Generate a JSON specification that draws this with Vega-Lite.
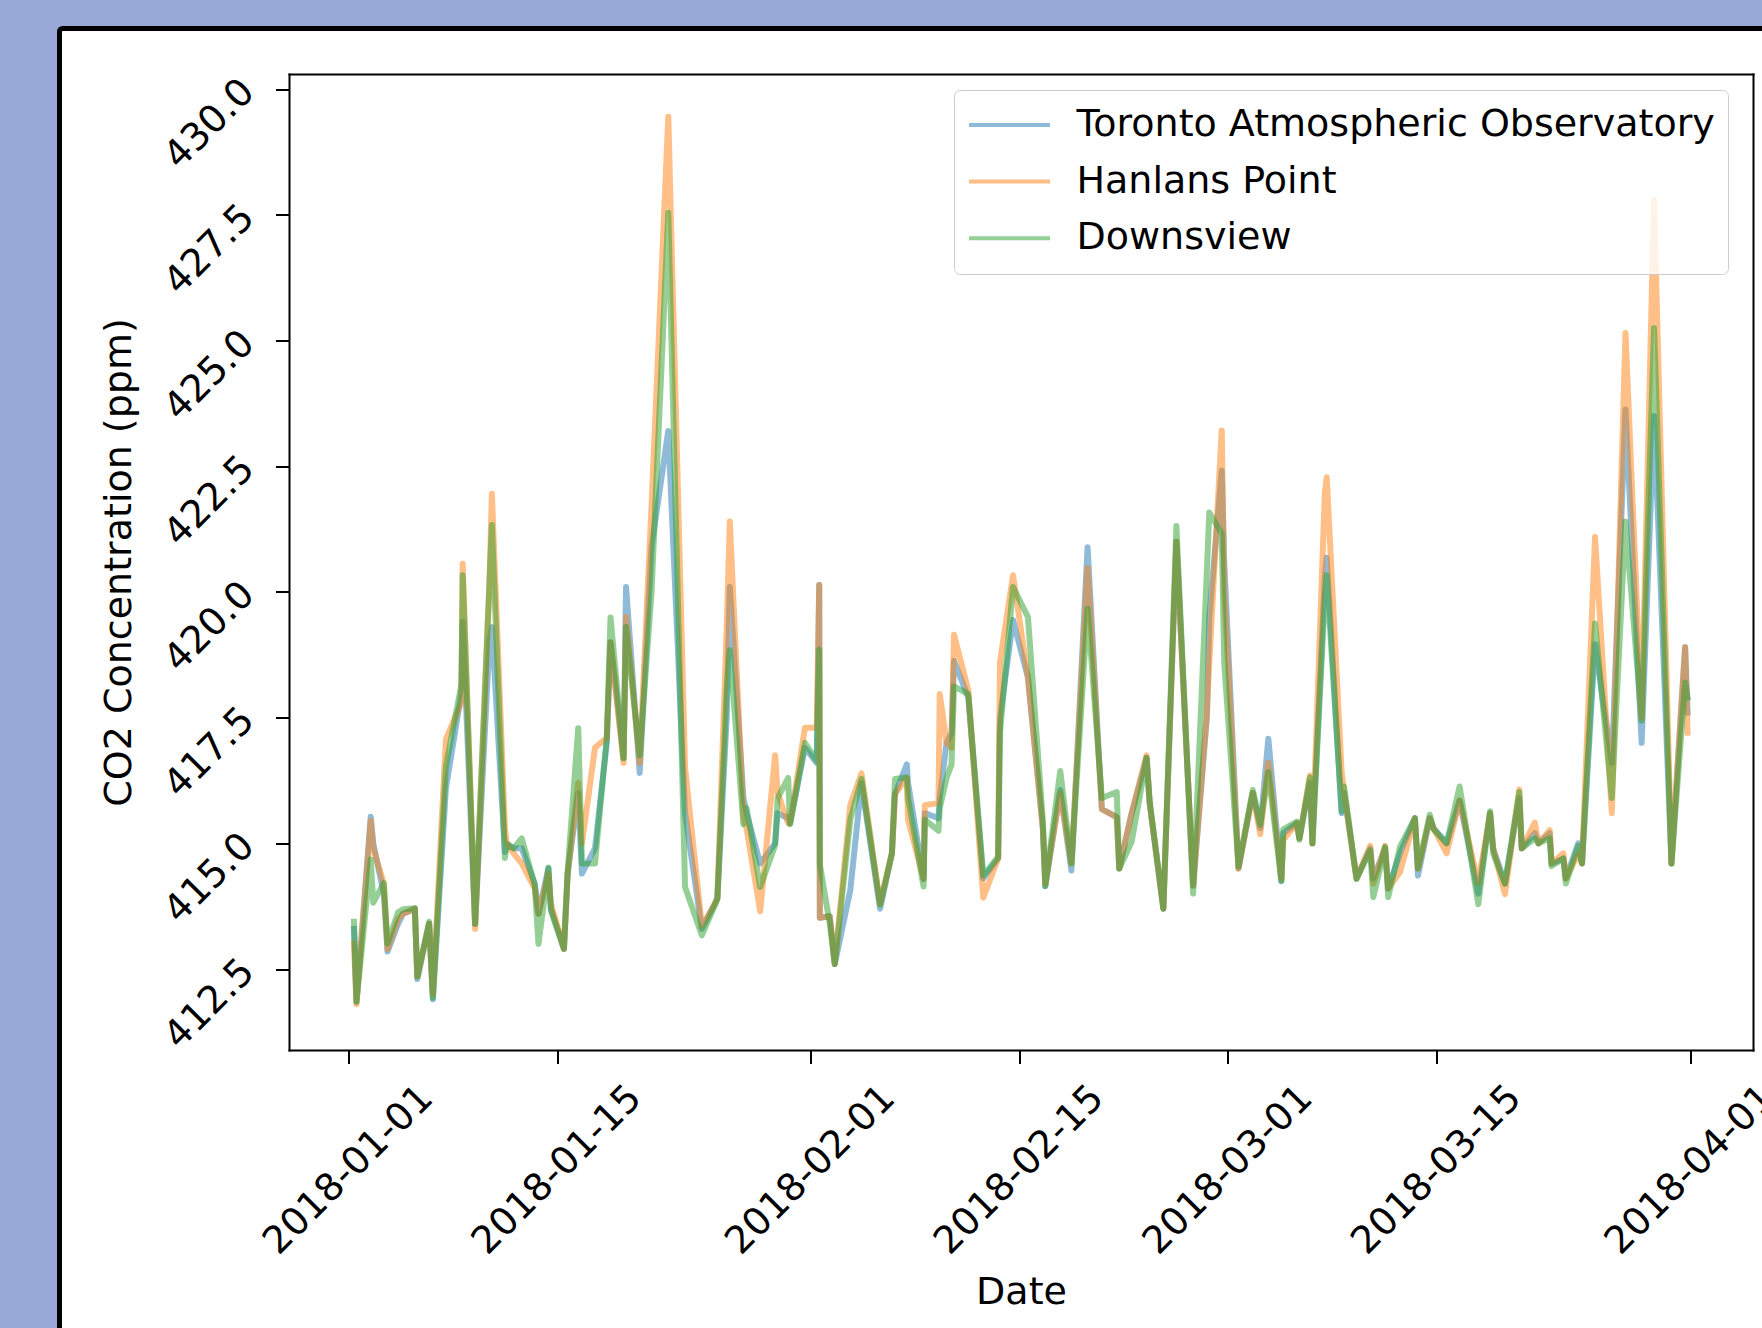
{
  "$schema": "https://vega.github.io/schema/vega-lite/v6.json",
  "width": 1712,
  "height": 1310,
  "autosize": {"type": "none"},
  "padding": {"left": 59.5, "top": 28.5, "right": -9.5, "bottom": -10.5},
  "background": "#98a9d7",
  "config": {
    "font": "DejaVu Sans",
    "view": {"fill": "white", "stroke": "black", "strokeWidth": 5, "cornerRadius": 3}
  },
  "data": {"values": [
    {"date": "2018-01-01T09:00", "Toronto Atmospheric Observatory": 413.3, "Hanlans Point": 413.0, "Downsview": 413.44},
    {"date": "2018-01-01T13:00", "Toronto Atmospheric Observatory": 411.85, "Hanlans Point": 411.8, "Downsview": 411.85},
    {"date": "2018-01-02T12:00", "Toronto Atmospheric Observatory": 415.53, "Hanlans Point": 415.45, "Downsview": 414.68},
    {"date": "2018-01-02T16:00", "Toronto Atmospheric Observatory": 415.0, "Hanlans Point": 414.9, "Downsview": 413.82},
    {"date": "2018-01-03T09:00", "Toronto Atmospheric Observatory": 414.0, "Hanlans Point": 414.2, "Downsview": 414.21},
    {"date": "2018-01-03T15:00", "Toronto Atmospheric Observatory": 412.85, "Hanlans Point": 412.9, "Downsview": 413.01},
    {"date": "2018-01-04T08:00", "Toronto Atmospheric Observatory": 413.4, "Hanlans Point": 413.5, "Downsview": 413.63},
    {"date": "2018-01-04T16:00", "Toronto Atmospheric Observatory": 413.6, "Hanlans Point": 413.6, "Downsview": 413.69},
    {"date": "2018-01-05T11:00", "Toronto Atmospheric Observatory": 413.7, "Hanlans Point": 413.7, "Downsview": 413.71},
    {"date": "2018-01-05T15:00", "Toronto Atmospheric Observatory": 412.3, "Hanlans Point": 412.35, "Downsview": 412.35},
    {"date": "2018-01-06T10:00", "Toronto Atmospheric Observatory": 413.4, "Hanlans Point": 413.4, "Downsview": 413.44},
    {"date": "2018-01-06T16:00", "Toronto Atmospheric Observatory": 411.9, "Hanlans Point": 412.0, "Downsview": 411.93},
    {"date": "2018-01-07T13:00", "Toronto Atmospheric Observatory": 416.1, "Hanlans Point": 417.07, "Downsview": 416.53},
    {"date": "2018-01-08T14:00", "Toronto Atmospheric Observatory": 418.0, "Hanlans Point": 417.8, "Downsview": 418.16},
    {"date": "2018-01-08T16:00", "Toronto Atmospheric Observatory": 419.4, "Hanlans Point": 420.56, "Downsview": 420.33},
    {"date": "2018-01-09T12:00", "Toronto Atmospheric Observatory": 413.4, "Hanlans Point": 413.3, "Downsview": 413.4},
    {"date": "2018-01-10T11:00", "Toronto Atmospheric Observatory": 419.0, "Hanlans Point": 420.1, "Downsview": 420.17},
    {"date": "2018-01-10T15:00", "Toronto Atmospheric Observatory": 419.3, "Hanlans Point": 421.95, "Downsview": 421.33},
    {"date": "2018-01-11T12:00", "Toronto Atmospheric Observatory": 414.83, "Hanlans Point": 415.3, "Downsview": 414.71},
    {"date": "2018-01-11T15:00", "Toronto Atmospheric Observatory": 415.0, "Hanlans Point": 415.0, "Downsview": 414.98},
    {"date": "2018-01-12T02:00", "Toronto Atmospheric Observatory": 414.9, "Hanlans Point": 414.8, "Downsview": 414.9},
    {"date": "2018-01-12T15:00", "Toronto Atmospheric Observatory": 414.9, "Hanlans Point": 414.6, "Downsview": 415.1},
    {"date": "2018-01-13T12:00", "Toronto Atmospheric Observatory": 414.2, "Hanlans Point": 414.1, "Downsview": 414.17},
    {"date": "2018-01-13T18:00", "Toronto Atmospheric Observatory": 413.6, "Hanlans Point": 413.6, "Downsview": 413.0},
    {"date": "2018-01-14T10:00", "Toronto Atmospheric Observatory": 414.5, "Hanlans Point": 414.4, "Downsview": 414.52},
    {"date": "2018-01-14T14:00", "Toronto Atmospheric Observatory": 413.7, "Hanlans Point": 413.8, "Downsview": 413.67},
    {"date": "2018-01-15T11:00", "Toronto Atmospheric Observatory": 412.9, "Hanlans Point": 412.9, "Downsview": 412.9},
    {"date": "2018-01-15T17:00", "Toronto Atmospheric Observatory": 414.4, "Hanlans Point": 414.4, "Downsview": 414.44},
    {"date": "2018-01-16T10:00", "Toronto Atmospheric Observatory": 416.0, "Hanlans Point": 416.2, "Downsview": 417.29},
    {"date": "2018-01-16T16:00", "Toronto Atmospheric Observatory": 414.4, "Hanlans Point": 415.0, "Downsview": 414.6},
    {"date": "2018-01-17T13:00", "Toronto Atmospheric Observatory": 414.9, "Hanlans Point": 416.9, "Downsview": 414.6},
    {"date": "2018-01-18T08:00", "Toronto Atmospheric Observatory": 417.0, "Hanlans Point": 417.1, "Downsview": 417.11},
    {"date": "2018-01-18T14:00", "Toronto Atmospheric Observatory": 419.0, "Hanlans Point": 419.0, "Downsview": 419.49},
    {"date": "2018-01-19T11:00", "Toronto Atmospheric Observatory": 416.7, "Hanlans Point": 416.6, "Downsview": 416.69},
    {"date": "2018-01-19T15:00", "Toronto Atmospheric Observatory": 420.1, "Hanlans Point": 419.5, "Downsview": 419.3},
    {"date": "2018-01-20T13:00", "Toronto Atmospheric Observatory": 416.4, "Hanlans Point": 416.6, "Downsview": 416.75},
    {"date": "2018-01-21T08:00", "Toronto Atmospheric Observatory": 420.9, "Hanlans Point": 421.7, "Downsview": 420.0},
    {"date": "2018-01-22T11:00", "Toronto Atmospheric Observatory": 423.2, "Hanlans Point": 429.45, "Downsview": 427.54},
    {"date": "2018-01-23T14:00", "Toronto Atmospheric Observatory": 415.6, "Hanlans Point": 416.5, "Downsview": 414.13},
    {"date": "2018-01-24T17:00", "Toronto Atmospheric Observatory": 413.3, "Hanlans Point": 413.35, "Downsview": 413.17},
    {"date": "2018-01-25T14:00", "Toronto Atmospheric Observatory": 413.8, "Hanlans Point": 413.8, "Downsview": 413.77},
    {"date": "2018-01-25T18:00", "Toronto Atmospheric Observatory": 413.9, "Hanlans Point": 413.9, "Downsview": 413.9},
    {"date": "2018-01-26T09:00", "Toronto Atmospheric Observatory": 417.5, "Hanlans Point": 419.25, "Downsview": 418.06},
    {"date": "2018-01-26T14:00", "Toronto Atmospheric Observatory": 420.1, "Hanlans Point": 421.4, "Downsview": 418.84},
    {"date": "2018-01-27T12:00", "Toronto Atmospheric Observatory": 415.9, "Hanlans Point": 415.5, "Downsview": 415.38},
    {"date": "2018-01-27T17:00", "Toronto Atmospheric Observatory": 415.6, "Hanlans Point": 415.3, "Downsview": 415.7},
    {"date": "2018-01-28T15:00", "Toronto Atmospheric Observatory": 414.6, "Hanlans Point": 413.65, "Downsview": 414.13},
    {"date": "2018-01-29T15:00", "Toronto Atmospheric Observatory": 415.0, "Hanlans Point": 416.75, "Downsview": 414.96},
    {"date": "2018-01-29T19:00", "Toronto Atmospheric Observatory": 415.6, "Hanlans Point": 416.0, "Downsview": 415.9},
    {"date": "2018-01-30T12:00", "Toronto Atmospheric Observatory": 415.5, "Hanlans Point": 415.4, "Downsview": 416.3},
    {"date": "2018-01-30T15:00", "Toronto Atmospheric Observatory": 415.4, "Hanlans Point": 415.4, "Downsview": 415.38},
    {"date": "2018-01-31T15:00", "Toronto Atmospheric Observatory": 416.9, "Hanlans Point": 417.3, "Downsview": 417.0},
    {"date": "2018-02-01T10:00", "Toronto Atmospheric Observatory": 416.6, "Hanlans Point": 417.3, "Downsview": 416.64},
    {"date": "2018-02-01T14:00", "Toronto Atmospheric Observatory": 420.14, "Hanlans Point": 420.14, "Downsview": 418.85},
    {"date": "2018-02-01T15:00", "Toronto Atmospheric Observatory": 413.52, "Hanlans Point": 413.52, "Downsview": 414.58},
    {"date": "2018-02-02T07:00", "Toronto Atmospheric Observatory": 413.55, "Hanlans Point": 413.55, "Downsview": 413.4},
    {"date": "2018-02-02T15:00", "Toronto Atmospheric Observatory": 412.6, "Hanlans Point": 412.6, "Downsview": 412.6},
    {"date": "2018-02-03T16:00", "Toronto Atmospheric Observatory": 414.07, "Hanlans Point": 415.76, "Downsview": 415.47},
    {"date": "2018-02-04T10:00", "Toronto Atmospheric Observatory": 416.2, "Hanlans Point": 416.39, "Downsview": 416.28},
    {"date": "2018-02-05T16:00", "Toronto Atmospheric Observatory": 413.7, "Hanlans Point": 413.8, "Downsview": 413.78},
    {"date": "2018-02-06T11:00", "Toronto Atmospheric Observatory": 414.8, "Hanlans Point": 414.8, "Downsview": 414.8},
    {"date": "2018-02-06T16:00", "Toronto Atmospheric Observatory": 415.98, "Hanlans Point": 415.98, "Downsview": 416.28},
    {"date": "2018-02-07T11:00", "Toronto Atmospheric Observatory": 416.57, "Hanlans Point": 416.3, "Downsview": 416.31},
    {"date": "2018-02-07T13:00", "Toronto Atmospheric Observatory": 416.2, "Hanlans Point": 415.47, "Downsview": 415.9},
    {"date": "2018-02-08T14:00", "Toronto Atmospheric Observatory": 414.29, "Hanlans Point": 414.29, "Downsview": 414.14},
    {"date": "2018-02-08T16:00", "Toronto Atmospheric Observatory": 415.6, "Hanlans Point": 415.76, "Downsview": 415.47},
    {"date": "2018-02-09T14:00", "Toronto Atmospheric Observatory": 415.5, "Hanlans Point": 415.8, "Downsview": 415.25},
    {"date": "2018-02-09T16:00", "Toronto Atmospheric Observatory": 415.9, "Hanlans Point": 417.97, "Downsview": 415.7},
    {"date": "2018-02-10T03:00", "Toronto Atmospheric Observatory": 417.0, "Hanlans Point": 417.0, "Downsview": 416.3},
    {"date": "2018-02-10T11:00", "Toronto Atmospheric Observatory": 417.2, "Hanlans Point": 416.9, "Downsview": 416.57},
    {"date": "2018-02-10T15:00", "Toronto Atmospheric Observatory": 418.63, "Hanlans Point": 419.15, "Downsview": 418.12},
    {"date": "2018-02-11T14:00", "Toronto Atmospheric Observatory": 417.9, "Hanlans Point": 418.04, "Downsview": 417.97},
    {"date": "2018-02-12T14:00", "Toronto Atmospheric Observatory": 414.3, "Hanlans Point": 413.92, "Downsview": 414.36},
    {"date": "2018-02-13T14:00", "Toronto Atmospheric Observatory": 414.7, "Hanlans Point": 414.7, "Downsview": 414.73},
    {"date": "2018-02-13T17:00", "Toronto Atmospheric Observatory": 417.5, "Hanlans Point": 418.6, "Downsview": 417.2},
    {"date": "2018-02-14T14:00", "Toronto Atmospheric Observatory": 419.44, "Hanlans Point": 420.33, "Downsview": 420.1},
    {"date": "2018-02-15T14:00", "Toronto Atmospheric Observatory": 418.3, "Hanlans Point": 418.3, "Downsview": 419.5},
    {"date": "2018-02-16T14:00", "Toronto Atmospheric Observatory": 415.3, "Hanlans Point": 415.3, "Downsview": 415.45},
    {"date": "2018-02-16T18:00", "Toronto Atmospheric Observatory": 414.15, "Hanlans Point": 414.2, "Downsview": 414.15},
    {"date": "2018-02-17T18:00", "Toronto Atmospheric Observatory": 416.06, "Hanlans Point": 416.0, "Downsview": 416.44},
    {"date": "2018-02-18T12:00", "Toronto Atmospheric Observatory": 414.46, "Hanlans Point": 414.6, "Downsview": 414.6},
    {"date": "2018-02-19T14:00", "Toronto Atmospheric Observatory": 420.89, "Hanlans Point": 420.47, "Downsview": 419.67},
    {"date": "2018-02-20T13:00", "Toronto Atmospheric Observatory": 415.68, "Hanlans Point": 415.68, "Downsview": 415.9},
    {"date": "2018-02-21T13:00", "Toronto Atmospheric Observatory": 415.52, "Hanlans Point": 415.52, "Downsview": 416.02},
    {"date": "2018-02-21T17:00", "Toronto Atmospheric Observatory": 414.5, "Hanlans Point": 414.5, "Downsview": 414.5},
    {"date": "2018-02-22T13:00", "Toronto Atmospheric Observatory": 415.6, "Hanlans Point": 415.6, "Downsview": 415.03},
    {"date": "2018-02-23T13:00", "Toronto Atmospheric Observatory": 416.7, "Hanlans Point": 416.75, "Downsview": 416.7},
    {"date": "2018-02-23T18:00", "Toronto Atmospheric Observatory": 415.8, "Hanlans Point": 415.8, "Downsview": 415.83},
    {"date": "2018-02-24T16:00", "Toronto Atmospheric Observatory": 413.7, "Hanlans Point": 413.7, "Downsview": 413.7},
    {"date": "2018-02-25T13:00", "Toronto Atmospheric Observatory": 421.0, "Hanlans Point": 421.0, "Downsview": 421.31},
    {"date": "2018-02-26T16:00", "Toronto Atmospheric Observatory": 414.16, "Hanlans Point": 414.16, "Downsview": 414.0},
    {"date": "2018-02-27T14:00", "Toronto Atmospheric Observatory": 417.5, "Hanlans Point": 417.58, "Downsview": 420.4},
    {"date": "2018-02-27T18:00", "Toronto Atmospheric Observatory": 419.5, "Hanlans Point": 418.6, "Downsview": 421.58},
    {"date": "2018-02-28T14:00", "Toronto Atmospheric Observatory": 422.41, "Hanlans Point": 423.21, "Downsview": 421.16},
    {"date": "2018-02-28T18:00", "Toronto Atmospheric Observatory": 420.6, "Hanlans Point": 420.0, "Downsview": 418.6},
    {"date": "2018-03-01T17:00", "Toronto Atmospheric Observatory": 414.5, "Hanlans Point": 414.5, "Downsview": 414.54},
    {"date": "2018-03-02T16:00", "Toronto Atmospheric Observatory": 416.0, "Hanlans Point": 416.0, "Downsview": 416.06},
    {"date": "2018-03-03T04:00", "Toronto Atmospheric Observatory": 415.3, "Hanlans Point": 415.18, "Downsview": 415.37},
    {"date": "2018-03-03T17:00", "Toronto Atmospheric Observatory": 417.08, "Hanlans Point": 416.6, "Downsview": 416.42},
    {"date": "2018-03-04T14:00", "Toronto Atmospheric Observatory": 414.25, "Hanlans Point": 414.3, "Downsview": 414.25},
    {"date": "2018-03-04T17:00", "Toronto Atmospheric Observatory": 415.2, "Hanlans Point": 415.07, "Downsview": 415.28},
    {"date": "2018-03-05T15:00", "Toronto Atmospheric Observatory": 415.4, "Hanlans Point": 415.4, "Downsview": 415.43},
    {"date": "2018-03-05T19:00", "Toronto Atmospheric Observatory": 415.1, "Hanlans Point": 415.1, "Downsview": 415.07},
    {"date": "2018-03-06T12:00", "Toronto Atmospheric Observatory": 416.2, "Hanlans Point": 416.35, "Downsview": 416.31},
    {"date": "2018-03-06T16:00", "Toronto Atmospheric Observatory": 415.0, "Hanlans Point": 415.0, "Downsview": 415.0},
    {"date": "2018-03-07T12:00", "Toronto Atmospheric Observatory": 420.3, "Hanlans Point": 421.96, "Downsview": 419.9},
    {"date": "2018-03-07T15:00", "Toronto Atmospheric Observatory": 420.68, "Hanlans Point": 422.28, "Downsview": 420.33},
    {"date": "2018-03-08T15:00", "Toronto Atmospheric Observatory": 415.6, "Hanlans Point": 416.42, "Downsview": 415.64},
    {"date": "2018-03-08T19:00", "Toronto Atmospheric Observatory": 416.0, "Hanlans Point": 416.0, "Downsview": 416.13},
    {"date": "2018-03-09T15:00", "Toronto Atmospheric Observatory": 414.3, "Hanlans Point": 414.3, "Downsview": 414.29},
    {"date": "2018-03-10T13:00", "Toronto Atmospheric Observatory": 414.9, "Hanlans Point": 414.95, "Downsview": 414.86},
    {"date": "2018-03-10T18:00", "Toronto Atmospheric Observatory": 414.3, "Hanlans Point": 414.2, "Downsview": 413.93},
    {"date": "2018-03-11T13:00", "Toronto Atmospheric Observatory": 414.9, "Hanlans Point": 414.95, "Downsview": 414.93},
    {"date": "2018-03-11T18:00", "Toronto Atmospheric Observatory": 414.1, "Hanlans Point": 414.1, "Downsview": 413.93},
    {"date": "2018-03-12T13:00", "Toronto Atmospheric Observatory": 414.8, "Hanlans Point": 414.43, "Downsview": 414.93},
    {"date": "2018-03-13T13:00", "Toronto Atmospheric Observatory": 415.5, "Hanlans Point": 415.5, "Downsview": 415.5},
    {"date": "2018-03-13T18:00", "Toronto Atmospheric Observatory": 414.36, "Hanlans Point": 414.5, "Downsview": 414.5},
    {"date": "2018-03-14T13:00", "Toronto Atmospheric Observatory": 415.5, "Hanlans Point": 415.5, "Downsview": 415.57},
    {"date": "2018-03-14T19:00", "Toronto Atmospheric Observatory": 415.3, "Hanlans Point": 415.3, "Downsview": 415.28},
    {"date": "2018-03-15T16:00", "Toronto Atmospheric Observatory": 415.0, "Hanlans Point": 414.8, "Downsview": 415.0},
    {"date": "2018-03-16T13:00", "Toronto Atmospheric Observatory": 415.85, "Hanlans Point": 415.85, "Downsview": 416.13},
    {"date": "2018-03-17T19:00", "Toronto Atmospheric Observatory": 414.0, "Hanlans Point": 414.2, "Downsview": 413.79},
    {"date": "2018-03-18T14:00", "Toronto Atmospheric Observatory": 415.6, "Hanlans Point": 415.6, "Downsview": 415.64},
    {"date": "2018-03-18T19:00", "Toronto Atmospheric Observatory": 414.9, "Hanlans Point": 414.9, "Downsview": 414.8},
    {"date": "2018-03-19T14:00", "Toronto Atmospheric Observatory": 414.2, "Hanlans Point": 413.99, "Downsview": 414.2},
    {"date": "2018-03-20T13:00", "Toronto Atmospheric Observatory": 415.9, "Hanlans Point": 416.07, "Downsview": 416.02},
    {"date": "2018-03-20T17:00", "Toronto Atmospheric Observatory": 414.9, "Hanlans Point": 414.9, "Downsview": 414.9},
    {"date": "2018-03-21T14:00", "Toronto Atmospheric Observatory": 415.2, "Hanlans Point": 415.41, "Downsview": 415.1},
    {"date": "2018-03-21T20:00", "Toronto Atmospheric Observatory": 415.0, "Hanlans Point": 415.0, "Downsview": 415.0},
    {"date": "2018-03-22T14:00", "Toronto Atmospheric Observatory": 415.2, "Hanlans Point": 415.26, "Downsview": 415.1},
    {"date": "2018-03-22T17:00", "Toronto Atmospheric Observatory": 414.6, "Hanlans Point": 414.6, "Downsview": 414.55},
    {"date": "2018-03-23T12:00", "Toronto Atmospheric Observatory": 414.7, "Hanlans Point": 414.8, "Downsview": 414.7},
    {"date": "2018-03-23T16:00", "Toronto Atmospheric Observatory": 414.3, "Hanlans Point": 414.3, "Downsview": 414.2},
    {"date": "2018-03-24T12:00", "Toronto Atmospheric Observatory": 415.0, "Hanlans Point": 414.8, "Downsview": 414.95},
    {"date": "2018-03-24T18:00", "Toronto Atmospheric Observatory": 414.6, "Hanlans Point": 414.6, "Downsview": 414.6},
    {"date": "2018-03-25T15:00", "Toronto Atmospheric Observatory": 418.96, "Hanlans Point": 421.09, "Downsview": 419.37},
    {"date": "2018-03-26T18:00", "Toronto Atmospheric Observatory": 416.6, "Hanlans Point": 415.6, "Downsview": 415.9},
    {"date": "2018-03-27T16:00", "Toronto Atmospheric Observatory": 423.63, "Hanlans Point": 425.15, "Downsview": 421.4},
    {"date": "2018-03-28T18:00", "Toronto Atmospheric Observatory": 417.0, "Hanlans Point": 417.5, "Downsview": 417.44},
    {"date": "2018-03-29T14:00", "Toronto Atmospheric Observatory": 423.5, "Hanlans Point": 427.8, "Downsview": 425.25},
    {"date": "2018-03-30T18:00", "Toronto Atmospheric Observatory": 414.6, "Hanlans Point": 414.6, "Downsview": 414.6},
    {"date": "2018-03-31T16:00", "Toronto Atmospheric Observatory": 418.9, "Hanlans Point": 418.9, "Downsview": 418.2},
    {"date": "2018-03-31T20:00", "Toronto Atmospheric Observatory": 417.6, "Hanlans Point": 417.2, "Downsview": 417.9}
  ]},
  "transform": [
    {"fold": ["Toronto Atmospheric Observatory", "Hanlans Point", "Downsview"], "as": ["station", "co2"]}
  ],
  "encoding": {
    "color": {
      "field": "station", "type": "nominal",
      "scale": {"domain": ["Toronto Atmospheric Observatory", "Hanlans Point", "Downsview"], "range": ["#1f77b4", "#ff7f0e", "#2ca02c"]},
      "legend": {
        "title": null, "orient": "none", "legendX": 894.5, "legendY": 61.5,
        "symbolType": "stroke", "symbolSize": 6561, "symbolStrokeWidth": 4, "symbolOpacity": 0.5,
        "labelFontSize": 38, "labelFont": "DejaVu Sans", "labelColor": "black", "labelLimit": 1200,
        "labelOffset": 24.5, "padding": 13, "rowPadding": 12.6, "clipHeight": 44,
        "fillColor": "rgba(255,255,255,0.8)", "strokeColor": "#cccccc", "cornerRadius": 6
      }
    }
  },
  "layer": [
    {
      "transform": [{"filter": "datum.station === 'Toronto Atmospheric Observatory'"}],
      "mark": {"type": "line", "strokeWidth": 6, "opacity": 0.5, "strokeJoin": "round", "strokeCap": "square"},
      "encoding": {
        "x": {"field": "date", "type": "temporal",
          "scale": {"domain": [{"year": 2017, "month": 12, "date": 28, "hours": 0, "minutes": 23}, {"year": 2018, "month": 4, "date": 5, "hours": 5, "minutes": 17}], "range": [229.5, 1693.5]},
          "axis": {
            "orient": "bottom", "offset": -288.5,
            "values": [{"year": 2018, "month": 1, "date": 1}, {"year": 2018, "month": 1, "date": 15}, {"year": 2018, "month": 2, "date": 1}, {"year": 2018, "month": 2, "date": 15}, {"year": 2018, "month": 3, "date": 1}, {"year": 2018, "month": 3, "date": 15}, {"year": 2018, "month": 4, "date": 1}],
            "format": "%Y-%m-%d", "grid": false,
            "labelAngle": -45, "labelAlign": "center", "labelBaseline": "middle", "labelPadding": 106.5,
            "labelFontSize": 38, "labelColor": "black", "labelOverlap": false, "labelFlush": false, "labelBound": false, "labelLimit": 1000,
            "tickSize": 13.5, "tickWidth": 2, "tickColor": "black",
            "domainColor": "black", "domainWidth": 2, "domainCap": "square",
            "title": "Date", "titleFontSize": 38, "titleFontWeight": "normal", "titleColor": "black", "titleY": 242, "titleBaseline": "middle"
          }
        },
        "y": {"field": "co2", "type": "quantitative",
          "scale": {"domain": [410.89, 430.3], "range": [1021.5, 45.5], "nice": false, "zero": false},
          "axis": {
            "orient": "left", "offset": -229.5,
            "values": [412.5, 415, 417.5, 420, 422.5, 425, 427.5, 430],
            "format": ".1f", "grid": false,
            "labelAngle": -45, "labelAlign": "center", "labelBaseline": "middle", "labelPadding": 66, "labelOffset": 35,
            "labelFontSize": 38, "labelColor": "black", "labelOverlap": false, "labelFlush": false, "labelBound": false, "labelLimit": 1000,
            "tickSize": 13.5, "tickWidth": 2, "tickColor": "black",
            "domainColor": "black", "domainWidth": 2, "domainCap": "square",
            "title": "CO2 Concentration (ppm)", "titleFontSize": 38, "titleFontWeight": "normal", "titleColor": "black", "titleX": -169.4, "titleBaseline": "middle"
          }
        }
      }
    },
    {
      "transform": [{"filter": "datum.station === 'Hanlans Point'"}],
      "mark": {"type": "line", "strokeWidth": 6, "opacity": 0.5, "strokeJoin": "round", "strokeCap": "square"},
      "encoding": {
        "x": {"field": "date", "type": "temporal",
          "scale": {"domain": [{"year": 2017, "month": 12, "date": 28, "hours": 0, "minutes": 23}, {"year": 2018, "month": 4, "date": 5, "hours": 5, "minutes": 17}], "range": [229.5, 1693.5]},
          "axis": {"orient": "top", "offset": -45.5, "ticks": false, "labels": false, "title": null, "grid": false, "domainColor": "black", "domainWidth": 2, "domainCap": "square"}
        },
        "y": {"field": "co2", "type": "quantitative",
          "scale": {"domain": [410.89, 430.3], "range": [1021.5, 45.5], "nice": false, "zero": false},
          "axis": {"orient": "right", "offset": -18.5, "ticks": false, "labels": false, "title": null, "grid": false, "domainColor": "black", "domainWidth": 2, "domainCap": "square"}
        }
      }
    },
    {
      "transform": [{"filter": "datum.station === 'Downsview'"}],
      "mark": {"type": "line", "strokeWidth": 6, "opacity": 0.5, "strokeJoin": "round", "strokeCap": "square"},
      "encoding": {
        "x": {"field": "date", "type": "temporal",
          "scale": {"domain": [{"year": 2017, "month": 12, "date": 28, "hours": 0, "minutes": 23}, {"year": 2018, "month": 4, "date": 5, "hours": 5, "minutes": 17}], "range": [229.5, 1693.5]},
          "axis": null
        },
        "y": {"field": "co2", "type": "quantitative",
          "scale": {"domain": [410.89, 430.3], "range": [1021.5, 45.5], "nice": false, "zero": false},
          "axis": null
        }
      }
    }
  ],
  "resolve": {"axis": {"x": "independent", "y": "independent"}}
}
